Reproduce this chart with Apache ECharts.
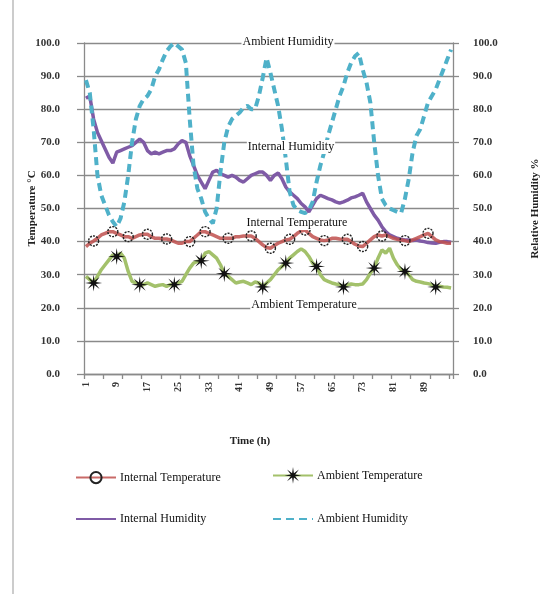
<!DOCTYPE html>
<html>
<head>
<meta charset="utf-8">
<script src="https://cdn.jsdelivr.net/npm/echarts@6/dist/echarts.min.js"></script>
<style>
html,body{margin:0;padding:0;background:#fff;}
#chart{width:560px;height:594px;}
</style>
</head>
<body>
<div id="chart"></div>
<script>
const hours = [1,2,3,4,5,6,7,8,9,10,11,12,13,14,15,16,17,18,19,20,21,22,23,24,25,26,27,28,29,30,31,32,33,34,35,36,37,38,39,40,41,42,43,44,45,46,47,48,49,50,51,52,53,54,55,56,57,58,59,60,61,62,63,64,65,66,67,68,69,70,71,72,73,74,75,76,77,78,79,80,81,82,83,84,85,86,87,88,89,90,91,92,93,94,95,96];

const internalTemp = [38.5,39.5,40.2,41,42,42.5,43,43,42.5,42,
  41.5,41.5,41,41.5,42,42.2,42.2,41.5,41,41,
  40.8,40.8,40.5,40,39.5,39.5,40,40,41,42,
  43,43,42.5,42,41.5,41,41,41,41,41.5,
  41.5,41.7,41.7,41.7,41,40,39,38.2,38,38.8,
  39.5,40,40.5,40.7,41.5,42.5,43.2,43.5,42.5,41.5,
  41,40.5,40.3,40.5,41,41,40.8,40.7,40.7,40,
  39.2,38.7,38.5,39.5,40.5,41.5,42,41.7,42,41.5,
  41,40.7,40.5,40.3,40,40.5,41,41.5,42,42.5,
  41.5,40.5,40,39.8,39.5,39.5];

const ambientTemp = [29.5,28.5,27.5,29.5,31.5,33,34.5,36,35.5,36.5,
  35,31,28,27.5,27,27,27.5,27,26.5,26.8,
  27,26.5,27,27,27.5,28,30,32,33.5,34,
  34.2,36.5,37,36,35,33,30.3,29.5,28.5,27.5,
  27.8,28,27.5,27,27.8,27.5,26.3,27.5,28.5,30,
  31.5,32.5,33.5,35,36,37,37.8,37,35.5,33.5,
  32.5,30,28.5,28,27.5,27.2,27,26.3,27,27.2,
  27,27,27.2,28.5,30.5,32,35,37.5,36.5,38,
  35,33,31.5,31,30,28.5,28,27.8,27.5,27.3,
  27,26.3,26.5,26.3,26.2,26];

const internalHum = [83.3,84,77,73,70.5,68,65.5,63.7,67,67.5,
  68,68.5,69,70,71,70,67.5,66.5,67,66.5,
  67,67.5,67.5,68,69.5,70.5,70,66,63,60,
  58,56,58.5,61,61.5,60.5,60,59.5,60,59.5,
  58.5,58,59,60,60.5,61,61,60,58.5,60,
  60.7,59,56.5,55,54,53,51.5,50.5,49,51,
  53,54,53.5,53,52.6,52,51.6,52,52.5,53.2,
  53.5,54,54.6,52,50,48,46.5,44.5,43,42,
  41.5,41,40.7,40.5,40.5,40.3,40.5,40.2,40,39.7,
  39.6,39.5,39.8,40,40,39.8];

const ambientHum = [88.8,85,74,60,54,51,48,46,44.5,47,
  52,60,70,77,81,83,84,86,89.9,92,
  95,97.5,99,100,99,98,94,77,63,56,
  53,49,47,45.5,50,61,70,74.7,77,78,
  79,80.5,81,80,80,84,89.5,95.5,91,86,
  81,74,65,55,51,49.5,49,48.6,49.5,52,
  58,63,67,72,76,80,84,87,91,94,
  96,97,92,88,82,70,60,53,51,50,
  49.5,49,48.6,53,59,67,72,74,78,82,
  84,86,89,92,95,98];

// indices of the points that carry a marker
const internalTempMarkers = [2,7,11,16,21,27,31,37,43,48,53,57,62,68,72,77,83,89];
const ambientTempMarkers = [2,8,14,23,30,36,46,52,60,67,75,83,91];

const seriesNames = ['Internal Temperature','Ambient Temperature','Internal Humidity','Ambient Humidity'];
const annotations = ['Ambient Humidity','Internal Humidity','Internal Temperature','Ambient Temperature'];

function starPath(){
  let p = '';
  for (let i = 0; i < 16; i++) {
    const a = i * Math.PI / 8 - Math.PI / 2;
    const r = i % 2 === 0 ? 10 : 2.8;
    p += (i ? 'L' : 'M') + (10 + r * Math.cos(a)).toFixed(2) + ' ' + (10 + r * Math.sin(a)).toFixed(2) + ' ';
  }
  return 'path://' + p + 'Z';
}
function withMarkers(values, idx){
  return values.map((v,i) => idx.includes(i) ? v : {value: v, symbol: 'none'});
}

const FONT = '"Liberation Serif", "DejaVu Serif", serif';
const gridColor = '#8a8a8a';

const chart = echarts.init(document.getElementById('chart'), null, {renderer:'canvas'});

function yAxisBase(pos, margin, tickLen){
  return {
    type: 'value', min: 0, max: 100, interval: 10, position: pos,
    axisLine: {show: true, lineStyle: {color: gridColor, width: 1.3}},
    axisTick: {show: true, inside: false, length: tickLen, lineStyle: {color: gridColor, width: 1.3}},
    axisLabel: {margin: margin, formatter: v => v.toFixed(1), fontFamily: FONT, fontSize: 11, fontWeight: 'bold', color: '#333'},
    nameLocation: 'middle', nameRotate: 90, nameMoveOverlap: false,
    nameTextStyle: {fontFamily: FONT, fontSize: 11, fontWeight: 'bold', color: '#222'}
  };
}

const yLeft = Object.assign(yAxisBase('left', 24, 7), {
  name: 'Temperature °C', nameGap: 46,
  splitLine: {show: true, lineStyle: {color: gridColor, width: 1.3}}
});
const yRight = Object.assign(yAxisBase('right', 20, 6), {
  name: 'Relative Humidity %', nameGap: 77,
  splitLine: {show: false}
});

function legend(item, left, top, h){
  return {
    data: [item], left: left, top: top, padding: 0, orient: 'horizontal',
    itemWidth: 40, itemHeight: h || 14, itemGap: 4,
    textStyle: {fontFamily: FONT, fontSize: 12, color: '#111', padding: [0,0,0,-1]}
  };
}

function annotation(text, x, y){
  return {
    type: 'text', z: 100, x: x, y: y,
    style: {text: text, textAlign: 'center', textVerticalAlign: 'middle',
      font: '12px ' + FONT, fill: '#111', backgroundColor: '#fff', padding: [1,1]}
  };
}

const option = {
  animation: false,
  backgroundColor: '#fff',
  grid: {left: 84, right: 107, top: 43, bottom: 220, containLabel: false},
  xAxis: {
    type: 'category', data: hours, boundaryGap: true,
    axisLine: {show: true, lineStyle: {color: gridColor, width: 1.3}},
    axisTick: {show: true, interval: 4, alignWithLabel: false, length: 5, lineStyle: {color: gridColor, width: 1.3}},
    axisLabel: {interval: 7, rotate: 90, margin: 8, fontFamily: FONT, fontSize: 10, fontWeight: 'bold', color: '#333'},
    splitLine: {show: false}
  },
  yAxis: [yLeft, yRight],
  legend: [
    legend(seriesNames[0], 75, 471),
    legend(seriesNames[1], 272, 467, 21),
    legend({name: seriesNames[2], itemStyle: {opacity: 0}}, 75, 513),
    legend({name: seriesNames[3], itemStyle: {opacity: 0}}, 272, 513)
  ],
  graphic: [
    {type: 'line', shape: {x1: 13, y1: 0, x2: 13, y2: 594}, style: {stroke: '#999', lineWidth: 1}},
    annotation(annotations[0], 288, 42),
    annotation(annotations[1], 291, 147),
    annotation(annotations[2], 297, 223),
    annotation(annotations[3], 304, 305),
    {type: 'text', x: 250, y: 441, style: {text: 'Time (h)', textAlign: 'center', textVerticalAlign: 'middle', font: 'bold 11px ' + FONT, fill: '#222'}}
  ],
  series: [
    {
      name: seriesNames[2], type: 'line', yAxisIndex: 1, data: internalHum,
      symbol: 'none', smooth: false, color: '#7f5ba6',
      lineStyle: {color: '#7f5ba6', width: 3.5}, z: 2
    },
    {
      name: seriesNames[3], type: 'line', yAxisIndex: 1, data: ambientHum,
      symbol: 'none', smooth: false, color: '#4fb1c9',
      lineStyle: {color: '#4fb1c9', width: 4, type: [8,5]}, z: 3
    },
    {
      name: seriesNames[0], type: 'line', yAxisIndex: 0,
      data: withMarkers(internalTemp, internalTempMarkers),
      symbol: 'circle', symbolSize: 10, showSymbol: true, showAllSymbol: true,
      color: '#c0504d',
      lineStyle: {color: '#c0504d', width: 3.5, opacity: 0.85},
      itemStyle: {color: 'rgba(255,255,255,0)', borderColor: '#222', borderWidth: 1.4, borderType: [2,1.2]},
      z: 4
    },
    {
      name: seriesNames[1], type: 'line', yAxisIndex: 0,
      data: withMarkers(ambientTemp, ambientTempMarkers),
      symbol: starPath(), symbolSize: 17, showSymbol: true, showAllSymbol: true,
      color: '#a3c16b',
      lineStyle: {color: '#a3c16b', width: 3.5},
      itemStyle: {color: '#111', borderWidth: 0},
      z: 5
    }
  ]
};
chart.setOption(option);
</script>
</body>
</html>
